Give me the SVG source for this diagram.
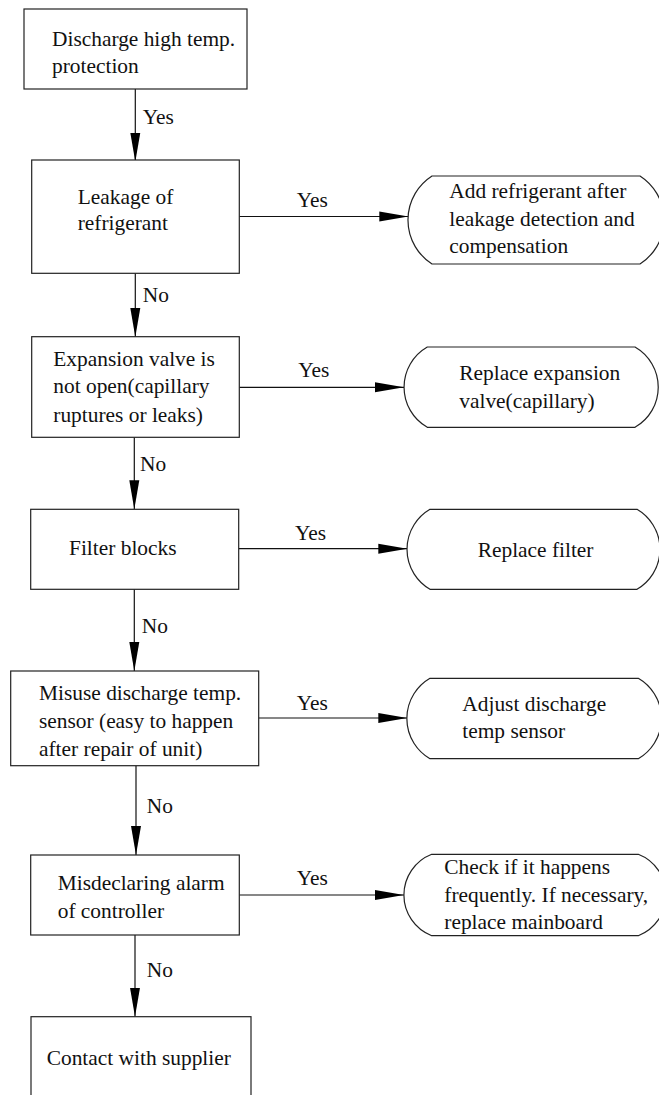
<svg xmlns="http://www.w3.org/2000/svg" width="659" height="1095" viewBox="0 0 659 1095">
<style>
.box{fill:#fff;stroke:#222;stroke-width:1.2}
.t{font-family:"Liberation Serif","Times New Roman",serif;font-size:21.4px;fill:#111}
.ln{stroke:#111;stroke-width:1.2;fill:none}
</style>
<defs>
<marker id="ah" markerUnits="userSpaceOnUse" markerWidth="30" markerHeight="11" refX="29" refY="5.5" orient="auto">
<path d="M0,0.5 L29,5.5 L0,10.5 z" fill="#000"/>
</marker>
</defs>
<rect width="659" height="1095" fill="#fff"/>
<g id="connectors">
<line class="ln" x1="135.3" y1="89" x2="135.3" y2="161.7" marker-end="url(#ah)"/>
<text class="t" x="142.7" y="124">Yes</text>
<line class="ln" x1="135.3" y1="273.3" x2="135.3" y2="337" marker-end="url(#ah)"/>
<text class="t" x="142.7" y="302">No</text>
<line class="ln" x1="134.3" y1="437.3" x2="134.3" y2="509.3" marker-end="url(#ah)"/>
<text class="t" x="140" y="471">No</text>
<line class="ln" x1="134.3" y1="589.3" x2="134.3" y2="671" marker-end="url(#ah)"/>
<text class="t" x="141.7" y="633.3">No</text>
<line class="ln" x1="136" y1="765.7" x2="136" y2="855" marker-end="url(#ah)"/>
<text class="t" x="146.7" y="813.3">No</text>
<line class="ln" x1="135" y1="935" x2="135" y2="1016.7" marker-end="url(#ah)"/>
<text class="t" x="146.7" y="976.7">No</text>
<line class="ln" x1="239.3" y1="216.5" x2="408.3" y2="216.5" marker-end="url(#ah)"/>
<text class="t" x="296.7" y="207">Yes</text>
<line class="ln" x1="239.3" y1="387.3" x2="404" y2="387.3" marker-end="url(#ah)"/>
<text class="t" x="298.3" y="377.3">Yes</text>
<line class="ln" x1="238.7" y1="548.7" x2="407.3" y2="548.7" marker-end="url(#ah)"/>
<text class="t" x="295" y="540">Yes</text>
<line class="ln" x1="258.7" y1="718" x2="407.3" y2="718" marker-end="url(#ah)"/>
<text class="t" x="296.7" y="710">Yes</text>
<line class="ln" x1="239.3" y1="895" x2="404" y2="895" marker-end="url(#ah)"/>
<text class="t" x="296.7" y="885">Yes</text>
</g>
<g id="n1">
<rect class="box" x="24" y="9" width="223" height="80"/>
<text class="t" x="52" y="46">Discharge high temp.</text>
<text class="t" x="52" y="73">protection</text>
</g>
<g id="n2">
<rect class="box" x="31.7" y="160" width="207.6" height="113.3"/>
<text class="t" x="77.7" y="204">Leakage of</text>
<text class="t" x="77.7" y="230">refrigerant</text>
</g>
<g id="n2y">
<path class="box" d="M432,176 L640,176 A52.3,52.3 0 0 1 640,264 L432,264 A52.3,52.3 0 0 1 432,176 Z"/>
<text class="t" x="449.3" y="198.3">Add refrigerant after</text>
<text class="t" x="449.3" y="226">leakage detection and</text>
<text class="t" x="449.3" y="253.3">compensation</text>
</g>
<g id="n3">
<rect class="box" x="31.7" y="336.7" width="207.6" height="100.6"/>
<text class="t" x="53.3" y="365.7">Expansion valve is</text>
<text class="t" x="53.3" y="393.3">not open(capillary</text>
<text class="t" x="53.3" y="421.7">ruptures or leaks)</text>
</g>
<g id="n3y">
<path class="box" d="M427.3,347 L635,347 A46.3,46.3 0 0 1 635,427.3 L427.3,427.3 A46.3,46.3 0 0 1 427.3,347 Z"/>
<text class="t" x="459.3" y="380">Replace expansion</text>
<text class="t" x="459.3" y="408.3">valve(capillary)</text>
</g>
<g id="n4">
<rect class="box" x="30.7" y="509.3" width="208" height="80"/>
<text class="t" x="69" y="555">Filter blocks</text>
</g>
<g id="n4y">
<path class="box" d="M430,509.3 L637,509.3 A46.3,46.3 0 0 1 637,589.3 L430,589.3 A46.3,46.3 0 0 1 430,509.3 Z"/>
<text class="t" x="477.7" y="556.7">Replace filter</text>
</g>
<g id="n5">
<rect class="box" x="10.7" y="671" width="248" height="94.7"/>
<text class="t" x="39" y="700">Misuse discharge temp.</text>
<text class="t" x="39" y="728.3">sensor (easy to happen</text>
<text class="t" x="39" y="756">after repair of unit)</text>
</g>
<g id="n5y">
<path class="box" d="M430,678.3 L638.3,678.3 A46.5,46.5 0 0 1 638.3,758.7 L430,758.7 A46.5,46.5 0 0 1 430,678.3 Z"/>
<text class="t" x="462.3" y="710.7">Adjust discharge</text>
<text class="t" x="462.3" y="738.3">temp sensor</text>
</g>
<g id="n6">
<rect class="box" x="30.7" y="855" width="208.6" height="80"/>
<text class="t" x="57.7" y="890">Misdeclaring alarm</text>
<text class="t" x="57.7" y="917.7">of controller</text>
</g>
<g id="n6y">
<path class="box" d="M431.7,854.3 L638.3,854.3 A43.7,43.7 0 0 1 638.3,935.7 L431.7,935.7 A43.7,43.7 0 0 1 431.7,854.3 Z"/>
<text class="t" x="444.3" y="874.3">Check if it happens</text>
<text class="t" x="444.3" y="901.7">frequently. If necessary,</text>
<text class="t" x="444.3" y="929.3">replace mainboard</text>
</g>
<g id="n7">
<rect class="box" x="31" y="1016.7" width="220" height="100"/>
<text class="t" x="46.7" y="1065">Contact with supplier</text>
</g>
</svg>
